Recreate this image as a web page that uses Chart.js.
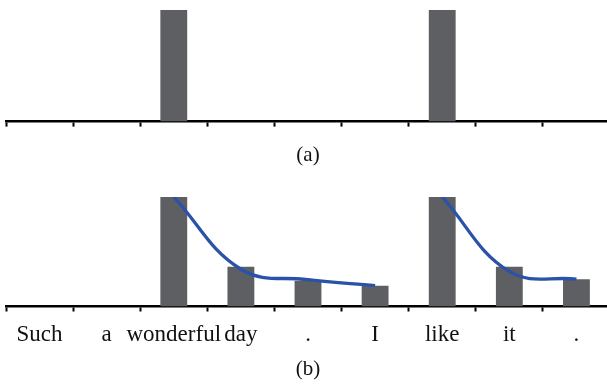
<!DOCTYPE html>
<html>
<head>
<meta charset="utf-8">
<script src="https://cdn.jsdelivr.net/npm/chart.js@4"></script>
<style>
  html, body { margin: 0; padding: 0; background: #fff; }
  #wrap { position: relative; width: 607px; height: 390px; overflow: hidden; }
  #wrap canvas { position: absolute; left: 0; }
  #top { top: 0; }
  #bottom { top: 180px; }
</style>
</head>
<body>
<div id="wrap">
  <canvas id="top" width="614" height="175"></canvas>
  <canvas id="bottom" width="614" height="210"></canvas>
</div>
<script>
const words = ['Such', 'a', 'wonderful', 'day', '.', 'I', 'like', 'it', '.'];
const hardBars = [null, null, 1, null, null, null, 1, null, null];
const softBars = [null, null, 1, 0.364, 0.235, 0.19, 1, 0.364, 0.248];
const curveOne = [null, null, 1, 0.34, 0.245, 0.19, null, null, null];
const curveTwo = [null, null, null, null, null, null, 1, 0.32, 0.25];

const barColor = '#5e5f63';
const lineColor = '#2a52a8';
const serif = 'Liberation Serif';

function xAxis(showLabels, title, tickPad, titlePad) {
  return {
    grid: {
      display: true,
      drawOnChartArea: false,
      drawTicks: true,
      tickLength: 5,
      tickWidth: 2,
      tickColor: '#000',
      offset: true
    },
    border: { display: true, color: '#000', width: 2.5 },
    ticks: {
      display: showLabels,
      color: '#111',
      padding: tickPad,
      autoSkip: false,
      maxRotation: 0,
      font: { family: serif, size: 23 }
    },
    title: {
      display: true,
      text: title,
      color: '#111',
      padding: titlePad,
      font: { family: serif, size: 21 }
    }
  };
}

const yAxis = { display: false, min: 0, max: 1 };

new Chart(document.getElementById('top'), {
  type: 'bar',
  data: {
    labels: words,
    datasets: [{
      data: hardBars,
      backgroundColor: barColor,
      barPercentage: 0.4,
      categoryPercentage: 1
    }]
  },
  options: {
    responsive: false,
    animation: false,
    layout: { padding: { left: 6, right: 4, top: 10, bottom: 0 } },
    plugins: { legend: { display: false }, tooltip: { enabled: false } },
    scales: {
      x: xAxis(false, '(a)', 0, { top: 15.8, bottom: 7.4 }),
      y: yAxis
    }
  }
});

new Chart(document.getElementById('bottom'), {
  type: 'bar',
  data: {
    labels: words,
    datasets: [{
      type: 'line',
      data: curveOne,
      borderColor: lineColor,
      borderWidth: 3.3,
      pointRadius: 0,
      tension: 0.4,
      order: 0
    }, {
      type: 'line',
      data: curveTwo,
      borderColor: lineColor,
      borderWidth: 3.3,
      pointRadius: 0,
      tension: 0.4,
      order: 0
    }, {
      data: softBars,
      backgroundColor: barColor,
      barPercentage: 0.4,
      categoryPercentage: 1,
      order: 1
    }]
  },
  options: {
    responsive: false,
    animation: false,
    layout: { padding: { left: 6, right: 4, top: 17, bottom: 0 } },
    plugins: { legend: { display: false }, tooltip: { enabled: false } },
    scales: {
      x: xAxis(true, '(b)', 10, { top: -2.7, bottom: 8.4 }),
      y: yAxis
    }
  }
});
</script>
</body>
</html>
